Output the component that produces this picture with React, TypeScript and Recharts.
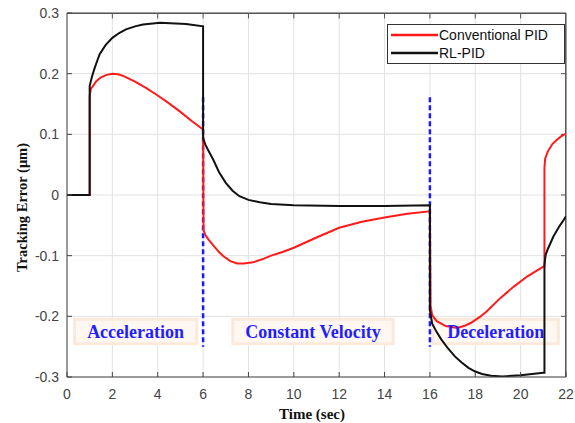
import React from "react";
import { LineChart, Line, XAxis, YAxis, CartesianGrid, ReferenceLine, ReferenceArea, Legend } from "recharts";

// time axis ticks (sec) and error ticks (um)
const timeTicks = [0, 2, 4, 6, 8, 10, 12, 14, 16, 18, 20, 22];
const errorTicks = [-0.3, -0.2, -0.1, 0, 0.1, 0.2, 0.3];

// Conventional PID
const pidTime = [0, 1.0, 1.0, 1.05, 1.15, 1.3, 1.5, 1.75, 2.0, 2.25, 2.5, 3.0, 3.5, 4.0, 4.5, 5.0, 5.5, 6.0, 6.02, 6.1, 6.25, 6.45, 6.7, 6.9, 7.2, 7.5, 7.8, 8.2, 8.6, 9.0, 9.5, 10.0, 11.0, 12.0, 13.0, 14.0, 15.0, 16.0, 16.03, 16.1, 16.3, 16.7, 17.2, 17.5, 17.8, 18.2, 18.5, 19.1, 19.7, 20.3, 21.0, 21.05, 21.05, 21.08, 21.2, 21.4, 21.6, 21.8, 22.0];
const pidError = [0, 0, 0.163, 0.175, 0.18, 0.188, 0.194, 0.198, 0.2, 0.199, 0.196, 0.187, 0.176, 0.164, 0.151, 0.137, 0.122, 0.108, -0.058, -0.066, -0.074, -0.083, -0.094, -0.101, -0.109, -0.113, -0.113, -0.111, -0.106, -0.1, -0.094, -0.087, -0.07, -0.054, -0.044, -0.037, -0.031, -0.027, -0.183, -0.198, -0.208, -0.216, -0.219, -0.216, -0.211, -0.201, -0.192, -0.17, -0.151, -0.134, -0.118, -0.117, 0.045, 0.06, 0.072, 0.084, 0.091, 0.097, 0.101];

// RL-PID
const rlTime = [0, 1.0, 1.0, 1.1, 1.2, 1.3, 1.44, 1.7, 2.0, 2.3, 2.6, 3.0, 3.35, 4.1, 5.25, 6.0, 6.0, 6.1, 6.25, 6.45, 6.7, 7.0, 7.3, 7.6, 8.0, 8.5, 9.0, 10.0, 12.0, 14.0, 16.0, 16.0, 16.1, 16.3, 16.5, 16.8, 17.1, 17.4, 17.7, 18.0, 18.3, 18.7, 19.2, 20.0, 21.0, 21.05, 21.05, 21.1, 21.2, 21.45, 21.7, 21.85, 22.0];
const rlError = [0, 0, 0.18, 0.195, 0.207, 0.218, 0.232, 0.247, 0.259, 0.267, 0.273, 0.278, 0.281, 0.284, 0.282, 0.278, 0.094, 0.083, 0.072, 0.058, 0.038, 0.02, 0.007, -0.002, -0.008, -0.012, -0.015, -0.017, -0.018, -0.018, -0.017, -0.19, -0.212, -0.226, -0.238, -0.253, -0.266, -0.276, -0.285, -0.291, -0.295, -0.298, -0.299, -0.297, -0.293, -0.293, -0.115, -0.099, -0.089, -0.068, -0.052, -0.044, -0.035];

// phase boundaries and label bands
const phaseSwitch = [6, 16];
const dashTop = 0.161;
const dashBottom = -0.25;
const phaseNames = ["Acceleration", "Constant Velocity", "Deceleration"];
const phaseFrom = [0.33, 7.31, 16.14];
const phaseTo = [5.72, 14.38, 21.66];
const bandTop = -0.205;
const bandBottom = -0.245;

const pidData = pidTime.map((t, i) => ({ t, v: pidError[i] }));
const rlData = rlTime.map((t, i) => ({ t, v: rlError[i] }));

const tickFont = { fontFamily: "'Liberation Sans', Arial, sans-serif", fontSize: 14, fill: "#444" };
const serif = "'Liberation Serif', 'Times New Roman', serif";

function LegendBox({ payload }: any) {
    return (
        <div style={{ border: "1px solid #333", background: "#fff", height: 37, paddingTop: 1, boxSizing: "content-box" }}>
            {(payload || []).map((p: any) => (
                <div key={p.value} style={{ display: "flex", alignItems: "center", height: 18 }}>
                    <svg width={50} height={18}>
                        <line x1={3} x2={50} y1={9} y2={9} stroke={p.color} strokeWidth={2.5} />
                    </svg>
                    <span style={{ fontFamily: "'Liberation Sans', Arial, sans-serif", fontSize: 14, color: "#111", marginLeft: 1 }}>{p.value}</span>
                </div>
            ))}
        </div>
    );
}

export default function App() {
    return (
        <div style={{ position: "absolute", left: 0, top: 0, background: "#fff" }}>
            <LineChart width={575} height={423} margin={{ top: 13, right: 9, bottom: 0, left: 0 }}>
                <CartesianGrid stroke="#e2e2e2" />
                <XAxis
                    dataKey="t"
                    type="number"
                    domain={[0, 22]}
                    ticks={timeTicks}
                    height={46}
                    tickSize={-5}
                    tickMargin={17}
                    stroke="#444"
                    tick={tickFont}
                    allowDataOverflow
                    label={(props: any) => (
                        <text x={312} y={414} textAnchor="middle" dominantBaseline="central" fontFamily={serif} fontWeight="bold" fontSize={15} fill="#111">
                            Time (sec)
                        </text>
                    )}
                />
                <YAxis
                    type="number"
                    domain={[-0.3, 0.3]}
                    ticks={errorTicks}
                    width={67}
                    tickSize={-5}
                    tickMargin={13}
                    stroke="#444"
                    tick={tickFont}
                    allowDataOverflow
                    tickFormatter={(v: number) => (v === 0 ? "0" : v.toFixed(1))}
                    label={(props: any) => (
                        <text x={21.5} y={207.5} textAnchor="middle" dominantBaseline="central" transform="rotate(-90, 21.5, 207.5)" fontFamily={serif} fontWeight="bold" fontSize={14.5} fill="#111">
                            Tracking Error (μm)
                        </text>
                    )}
                />
                {phaseNames.map((name, i) => (
                    <ReferenceArea
                        key={name}
                        x1={phaseFrom[i]}
                        x2={phaseTo[i]}
                        y1={bandBottom}
                        y2={bandTop}
                        fill="#fef7f2"
                        fillOpacity={1}
                        stroke="#fbe9dc"
                        strokeWidth={3}
                        label={{ value: name, position: "center", fill: "#1f1fff", fontSize: 18, fontWeight: "bold", fontFamily: serif }}
                    />
                ))}
                {/* top and right edges of the box, with inward ticks */}
                <ReferenceLine segment={[{ x: 0, y: 0.2995 }, { x: 22, y: 0.2995 }]} stroke="#555" strokeWidth={1.5} />
                <ReferenceLine segment={[{ x: 21.99, y: -0.3 }, { x: 21.99, y: 0.3 }]} stroke="#555" strokeWidth={1.5} />
                {timeTicks.slice(1, -1).map((t) => (
                    <ReferenceLine key={"tt" + t} segment={[{ x: t, y: 0.299 }, { x: t, y: 0.291 }]} stroke="#555" />
                ))}
                {errorTicks.slice(1, -1).map((v) => (
                    <ReferenceLine key={"rt" + v} segment={[{ x: 21.99, y: v }, { x: 21.78, y: v }]} stroke="#555" />
                ))}
                {phaseSwitch.map((t) => (
                    <ReferenceLine
                        key={t}
                        segment={[{ x: t, y: dashTop }, { x: t, y: dashBottom }]}
                        stroke="#1a1aff"
                        strokeWidth={2.5}
                        strokeDasharray="5 3"
                    />
                ))}
                <Line data={pidData} dataKey="v" name="Conventional PID" type="linear" stroke="#ff1a1a" strokeWidth={2} dot={false} isAnimationActive={false} />
                <Line data={rlData} dataKey="v" name="RL-PID" type="linear" stroke="#111" strokeWidth={2} dot={false} isAnimationActive={false} />
                <Legend
                    content={<LegendBox />}
                    layout="horizontal"
                    verticalAlign="middle"
                    align="center"
                    wrapperStyle={{ position: "absolute", left: 387, top: 24, width: 178, height: 39 }}
                />
            </LineChart>
        </div>
    );
}
